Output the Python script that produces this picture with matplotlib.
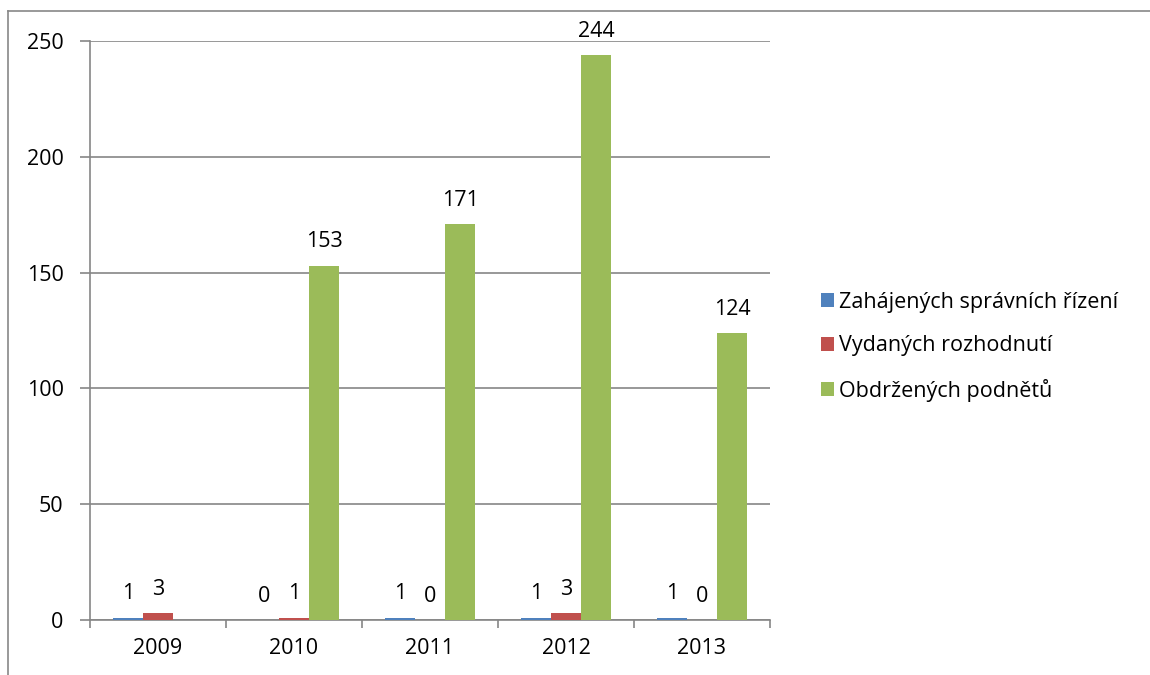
import matplotlib
matplotlib.use("Agg")
import matplotlib.pyplot as plt
import numpy as np
from matplotlib.lines import Line2D

plt.rcParams['font.family'] = ['Open Sans', 'DejaVu Sans']

years = ["2009", "2010", "2011", "2012", "2013"]
series_names = ["Zahájených správních řízení", "Vydaných rozhodnutí", "Obdržených podnětů"]
zahajenych = [1, 0, 1, 1, 1]
vydanych = [3, 1, 0, 3, 0]
obdrzenych = [np.nan, 153, 171, 244, 124]
colors = ["#4F81BD", "#C0504D", "#9BBB59"]

W, H = 1150, 675
FS = 15.5
fig = plt.figure(figsize=(W / 100, H / 100), dpi=100)
ax = fig.add_axes([90 / W, 1 - 620 / H, (770 - 90) / W, (620 - 41) / H])

x = np.arange(len(years))
bw = 30 / 136
data = [zahajenych, vydanych, obdrzenych]
for i, (vals, c, name) in enumerate(zip(data, colors, series_names)):
    pos = x + (i - 1) * bw
    v = np.array(vals, dtype=float)
    ax.bar(pos, np.nan_to_num(v), width=bw, color=c, label=name, zorder=3)
    for p, val in zip(pos, v):
        if np.isnan(val):
            continue
        ax.annotate(f"{int(val)}", (p, val), xytext=(0, 9.5), textcoords="offset points",
                    ha="center", va="bottom", fontsize=FS, color="black")

ax.set_xlim(-0.5, len(years) - 0.5)
ax.set_ylim(0, 250)
ax.set_yticks(np.arange(0, 251, 50))
ax.grid(axis="y", color="#868686", linewidth=1.2, zorder=0)
ax.set_axisbelow(True)

ax.set_xticks(x)
ax.set_xticklabels(years, fontsize=FS)
ax.set_xticks(np.arange(-0.5, len(years)), minor=True)
ax.tick_params(axis="x", which="major", length=0, pad=13)
ax.tick_params(axis="x", which="minor", length=6, color="#868686", width=1.2)
ax.tick_params(axis="y", length=7, color="#868686", width=1.2, labelsize=FS, pad=12)

for s in ["top", "right"]:
    ax.spines[s].set_visible(False)
for s in ["left", "bottom"]:
    ax.spines[s].set_color("#868686")
    ax.spines[s].set_linewidth(1.2)

leg = fig.legend(loc="upper left", bbox_to_anchor=(812 / W, 1 - 283 / H), frameon=False,
                 fontsize=FS, handlelength=0.62, handleheight=0.62, handletextpad=0.25,
                 labelspacing=1.05, borderaxespad=0)

# outer chart border (top and left visible)
fig.add_artist(Line2D([8 / W, 1.0], [1 - 11 / H, 1 - 11 / H], transform=fig.transFigure,
                      color="#888888", linewidth=1.2))
fig.add_artist(Line2D([8 / W, 8 / W], [0, 1 - 11 / H], transform=fig.transFigure,
                      color="#888888", linewidth=1.2))

fig.savefig("out.png", dpi=100, facecolor="white")
